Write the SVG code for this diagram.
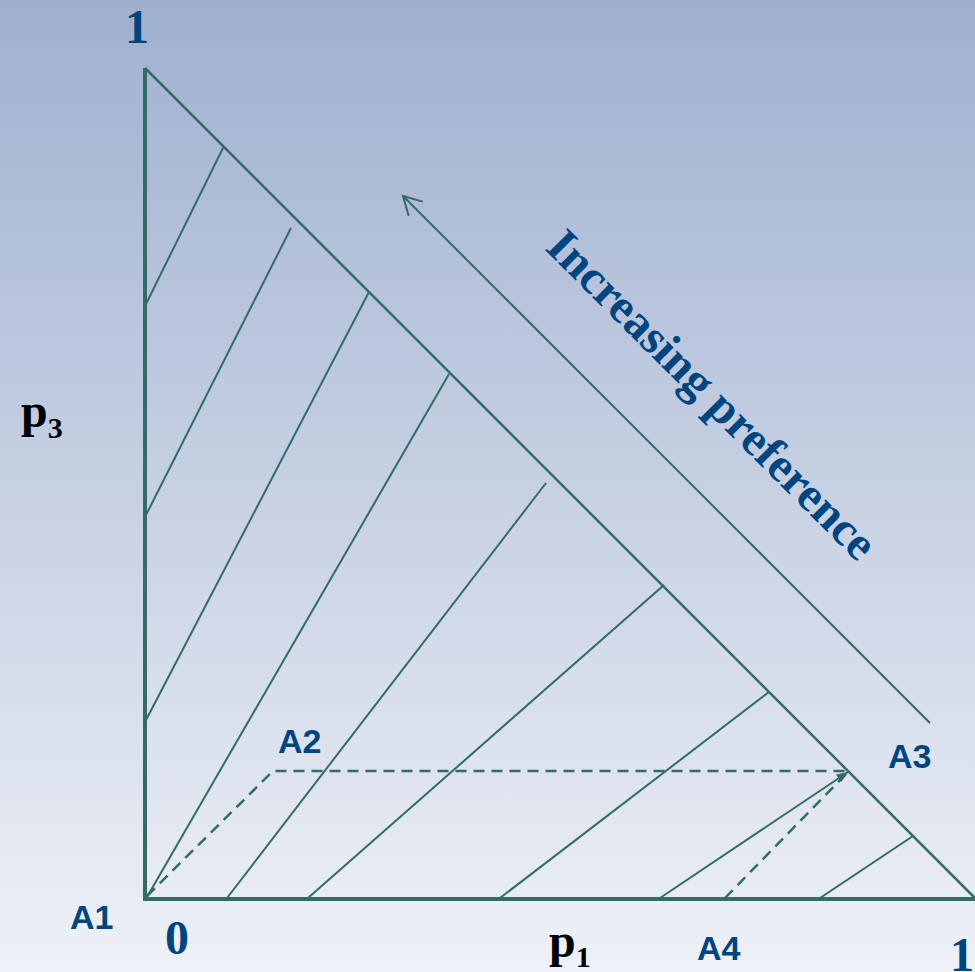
<svg xmlns="http://www.w3.org/2000/svg" width="975" height="972" viewBox="0 0 975 972">
<defs>
<linearGradient id="bg" x1="0" y1="0" x2="0" y2="1">
<stop offset="0" stop-color="#9fb0cf"/>
<stop offset="1" stop-color="#eef1f7"/>
</linearGradient>
<marker id="openArrow" markerUnits="userSpaceOnUse" markerWidth="30" markerHeight="30" viewBox="-25 -15 30 30" refX="0" refY="0" orient="auto">
<path d="M -18 -10 L 0 0 L -18 10" fill="none" stroke="#336b66" stroke-width="2"/>
</marker>
<marker id="smallArrow" markerUnits="userSpaceOnUse" markerWidth="16" markerHeight="16" viewBox="-12 -6 14 12" refX="0" refY="0" orient="auto">
<path d="M -10 -4 L 0 0 L -10 4 Z" fill="#336b66"/>
</marker>
<style>
.axis{stroke:#336b66;stroke-width:4;fill:none}
.hyp{stroke:#336b66;stroke-width:2.5;fill:none}
.curve{stroke:#336b66;stroke-width:2;fill:none}
.dash{stroke:#336b66;stroke-width:2.5;fill:none;stroke-dasharray:11 7}
.serif{font-family:"Liberation Serif","Times New Roman",serif;font-weight:bold;font-size:48px}
.blue{fill:#00457f}
.black{fill:#000000}
.lbl{font-family:"Liberation Sans",Arial,sans-serif;font-weight:bold;font-size:34px;fill:#00457f}
</style>
</defs>
<rect x="0" y="0" width="975" height="972" fill="url(#bg)"/>
<g id="triangle">
<line class="hyp" x1="145" y1="68" x2="975" y2="898"/>
<line class="axis" x1="145" y1="68" x2="145" y2="899"/>
<line class="axis" x1="143" y1="899" x2="975" y2="899"/>
</g>
<g id="connectors">
<line class="curve" x1="223" y1="148" x2="145" y2="306"/>
<line class="curve" x1="291" y1="228" x2="145" y2="517"/>
<line class="curve" x1="369" y1="292" x2="145" y2="722"/>
<line class="curve" x1="449" y1="374" x2="147" y2="897"/>
<line class="curve" x1="546" y1="483" x2="227" y2="898"/>
<line class="curve" x1="664" y1="585" x2="308" y2="898"/>
<line class="curve" x1="769" y1="692" x2="500" y2="898"/>
<line class="curve" x1="660" y1="898" x2="848" y2="772" marker-end="url(#smallArrow)"/>
<line class="curve" x1="820" y1="898" x2="913" y2="836"/>
<polyline class="dash" points="147,896 273,771 848,771"/>
<line class="dash" x1="725" y1="898" x2="848" y2="772"/>
<line class="curve" x1="930" y1="723" x2="403" y2="196" marker-end="url(#openArrow)"/>
</g>
<g id="labels">
<text class="serif blue" transform="translate(544,249) rotate(45)">Increasing preference</text>
<text class="serif blue" x="137" y="43" text-anchor="middle">1</text>
<text class="serif blue" x="177" y="954" text-anchor="middle">0</text>
<text class="serif blue" x="962" y="971" text-anchor="middle">1</text>
<text class="serif black" x="21" y="427">p<tspan font-size="30" dy="11">3</tspan></text>
<text class="serif black" x="549" y="957">p<tspan font-size="30" dy="10">1</tspan></text>
<text id="A1" class="lbl" x="70" y="929">A1</text>
<text id="A2" class="lbl" x="278" y="753">A2</text>
<text id="A3" class="lbl" x="888" y="768">A3</text>
<text id="A4" class="lbl" x="697" y="960">A4</text>
</g>
</svg>
